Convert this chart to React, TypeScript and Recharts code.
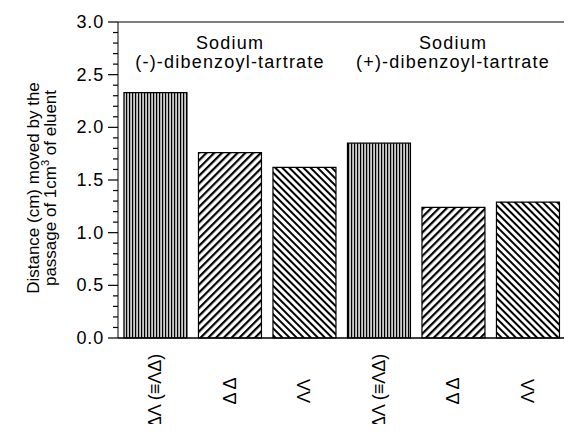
import React from "react";
import { BarChart, Bar, XAxis, YAxis, Cell } from "recharts";

const categories = ["ΔΛ (≡ΛΔ)", "Δ Δ", "ΛΛ", "ΔΛ (≡ΛΔ)", "Δ Δ", "ΛΛ"];
const distances = [2.33, 1.76, 1.62, 1.85, 1.24, 1.29];
const patterns = ["url(#vert)", "url(#fwd)", "url(#back)", "url(#vert)", "url(#fwd)", "url(#back)"];
const majorTicks = [0, 0.5, 1, 1.5, 2, 2.5, 3];
const allTicks = Array.from({ length: 31 }, (_, i) => i / 10);

const data = categories.map((name, i) => ({ name, value: distances[i], key: i }));

const FONT = "'Liberation Sans', Arial, Helvetica, sans-serif";

function isMajor(v: number) {
  return majorTicks.some((m) => Math.abs(m - v) < 1e-6);
}

function LeftTick(props: any) {
  const { x, y, payload } = props;
  const major = isMajor(payload.value);
  const len = major ? 10 : 5;
  return (
    <g>
      <path d={`M${x - len},${y}H${x}`} stroke="#000" strokeWidth={1.2} fill="none" />
      {major && (
        <text x={x - 14} y={y} dy={6} textAnchor="end" fontSize={18} fontFamily={FONT} letterSpacing={0.8} fill="#000" stroke="none">
          {payload.value.toFixed(1)}
        </text>
      )}
    </g>
  );
}

function RightTick(props: any) {
  const { x, y, payload } = props;
  const len = isMajor(payload.value) ? 8 : 4;
  return <path d={`M${x - len},${y}H${x}`} stroke="#000" strokeWidth={1.2} fill="none" />;
}

function BottomTick(props: any) {
  const { x, payload } = props;
  const cy = 391;
  return (
    <text
      x={x}
      y={cy}
      transform={`rotate(-90 ${x} ${cy})`}
      textAnchor="middle"
      dy={6}
      fontSize={18}
      fontFamily={FONT}
      fill="#000"
      stroke="none"
    >
      {categories[payload.value]}
    </text>
  );
}

const noteStyle: React.CSSProperties = {
  position: "absolute",
  textAlign: "center",
  fontFamily: FONT,
  fontSize: 18,
  letterSpacing: 1.2,
  lineHeight: "19px",
  color: "#000",
  whiteSpace: "nowrap",
  transform: "translateX(-50%)",
};

export default function App() {
  return (
    <div style={{ position: "relative", width: 572, height: 432, margin: -8, background: "#fff" }}>
      <BarChart
        width={572}
        height={432}
        data={data}
        margin={{ top: 20, right: 6, left: 0, bottom: 0 }}
        barCategoryGap="8%"
      >
        <defs>
          <pattern id="vert" patternUnits="userSpaceOnUse" width="3" height="4">
            <rect width="3" height="4" fill="#fff" />
            <rect x="0" width="1.3" height="4" fill="#000" />
            <rect x="1.3" y="0" width="1.7" height="4" fill="#9a9a9a" opacity="0.5" />
          </pattern>
          <pattern id="fwd" patternUnits="userSpaceOnUse" width="5.5" height="5.5" patternTransform="rotate(45)">
            <rect width="5.5" height="5.5" fill="#fff" />
            <rect x="0" width="2.2" height="5.5" fill="#000" />
          </pattern>
          <pattern id="back" patternUnits="userSpaceOnUse" width="5" height="5" patternTransform="rotate(-45)">
            <rect width="5" height="5" fill="#fff" />
            <rect x="0" width="2" height="5" fill="#000" />
          </pattern>
        </defs>
        <XAxis
          dataKey="key"
          height={94}
          axisLine={{ stroke: "#000", strokeWidth: 1.5 }}
          tickLine={false}
          tick={<BottomTick />}
          interval={0}
        />
        <XAxis
          xAxisId="top"
          dataKey="key"
          orientation="top"
          height={2}
          axisLine={{ stroke: "#000", strokeWidth: 1.2 }}
          tickLine={false}
          tick={false}
        />
        <YAxis
          yAxisId="left"
          width={118}
          domain={[0, 3]}
          ticks={allTicks}
          interval={0}
          tickLine={false}
          tickSize={0}
          tickMargin={0}
          axisLine={{ stroke: "#000", strokeWidth: 1 }}
          tick={<LeftTick />}
        />
        <YAxis
          yAxisId="right"
          orientation="right"
          width={1}
          domain={[0, 3]}
          ticks={allTicks}
          interval={0}
          tickLine={false}
          tickSize={0}
          tickMargin={0}
          axisLine={{ stroke: "#000", strokeWidth: 1 }}
          tick={<RightTick />}
        />
        <Bar yAxisId="left" dataKey="value" stroke="#000" strokeWidth={1.2} isAnimationActive={false}>
          {data.map((d, i) => (
            <Cell key={d.key} fill={patterns[i]} />
          ))}
        </Bar>
      </BarChart>

      <div style={{ ...noteStyle, left: 230, top: 34 }}>
        Sodium
        <br />
        (-)-dibenzoyl-tartrate
      </div>
      <div style={{ ...noteStyle, left: 453, top: 34 }}>
        Sodium
        <br />
        (+)-dibenzoyl-tartrate
      </div>

      <div
        style={{
          position: "absolute",
          left: 42,
          top: 188,
          transform: "translate(-50%, -50%) rotate(-90deg)",
          fontFamily: FONT,
          fontSize: 17,
          lineHeight: "17px",
          letterSpacing: 0,
          textAlign: "center",
          whiteSpace: "nowrap",
          color: "#000",
        }}
      >
        Distance (cm) moved by the
        <br />
        passage of 1cm<sup style={{ fontSize: 11, lineHeight: 0 }}>3</sup> of eluent
      </div>
    </div>
  );
}
